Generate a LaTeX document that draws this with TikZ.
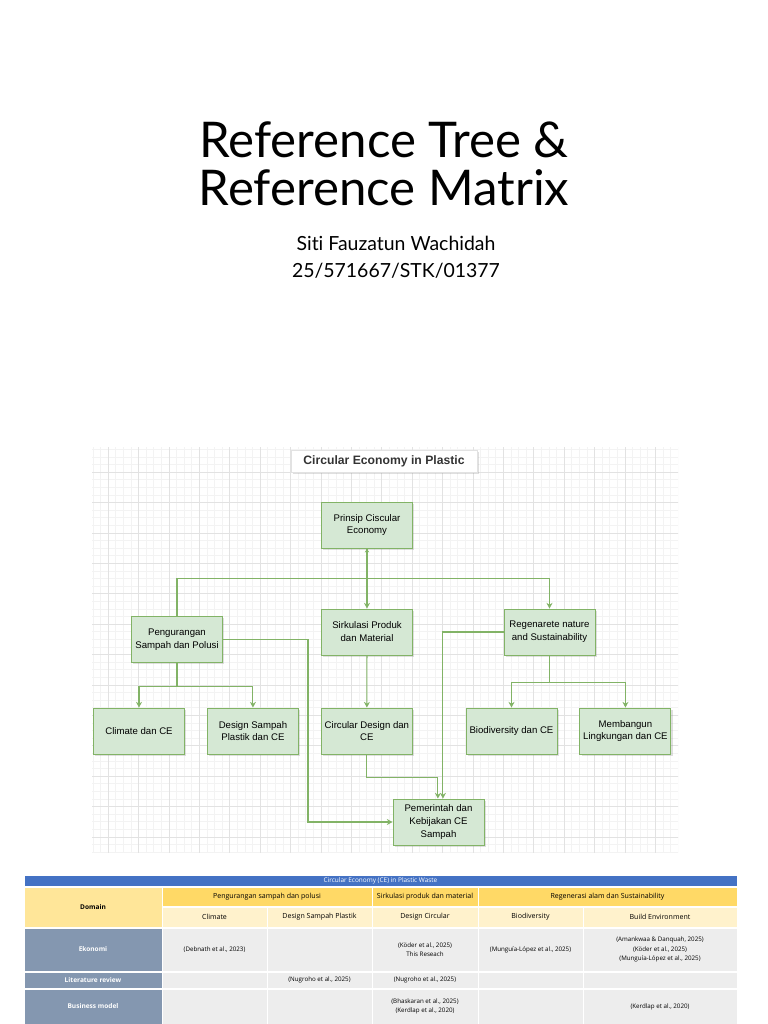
\documentclass[tikz,border=0pt]{standalone}
\usepackage{fontspec}
\setmainfont{Liberation Sans}
\newfontfamily\titlefont[Ligatures=NoCommon]{Lato}
\newfontfamily\tabfont{Open Sans}
\usepackage{tikz}
\usetikzlibrary{positioning,arrows.meta,shadows}

\definecolor{boxgreen}{HTML}{D5E8D4}
\definecolor{linegreen}{HTML}{82B366}
\definecolor{minorgray}{HTML}{F3F3F3}
\definecolor{majorgray}{HTML}{E2E2E2}
\definecolor{barblue}{HTML}{4472C4}
\definecolor{hdrone}{HTML}{FFD966}
\definecolor{hdrtwo}{HTML}{FFF2CC}
\definecolor{domyellow}{HTML}{FFE699}
\definecolor{slate}{HTML}{8497B0}
\definecolor{cellgray}{HTML}{EDEDED}

\begin{document}
\begin{tikzpicture}[
x=0.03cm, y=-0.03cm,
node distance=0.66cm,
treebox/.style={draw=linegreen, fill=boxgreen, line width=0.8pt, minimum width=2.73cm, minimum height=1.38cm, inner sep=0pt, align=center, font=\fontsize{8.2}{11}\selectfont, drop shadow={shadow xshift=1.6pt, shadow yshift=-1.6pt, opacity=0.25}},
conn/.style={draw=linegreen, line width=0.9pt, -{Stealth[length=1.7mm, width=1.8mm]}},
tcell/.style={draw=white, line width=0.8pt, inner sep=0pt, align=center, font=\tabfont\fontsize{5.3}{8}\selectfont},
thead/.style={tcell, font=\tabfont\fontsize{6}{7}\selectfont},
tdom/.style={tcell, fill=slate, text=white, minimum width=4.14cm, font=\tabfont\bfseries\fontsize{5.6}{7}\selectfont}
]
\useasboundingbox (0,0) rectangle (768,1024);
\fill[white] (0,0) rectangle (768,1024);

% title
\node[font=\titlefont\fontsize{42}{46}\selectfont, anchor=base] (titel1) at (384,157) {Reference Tree \&};
\node[font=\titlefont\fontsize{42}{46}\selectfont, anchor=base] (titel2) at (384,205) {Reference Matrix};
\node[font=\titlefont\fontsize{16.6}{20}\selectfont, anchor=base] (penulis) at (396,250) {Siti Fauzatun Wachidah};
\node[font=\titlefont\fontsize{16.6}{20}\selectfont, anchor=base] (nim) at (396,277) {25/571667/STK/01377};

% grid paper
\begin{scope}
\clip (92,447) rectangle (678,852);
\begin{scope}[shift={(77.6,441.6)}]
\draw[minorgray, line width=0.4pt, step=0.228cm] (0,0) grid (620,420);
\draw[majorgray, line width=0.5pt, step=0.912cm] (0,0) grid (620,420);
\end{scope}
\end{scope}

% tree
\node[draw=majorgray, fill=white, minimum width=5.58cm, minimum height=0.66cm, font=\bfseries\fontsize{10.4}{12}\selectfont, text=black!80, drop shadow={shadow xshift=1.6pt, shadow yshift=-1.6pt, opacity=0.25}] (judul) at (384,461) {Circular Economy in Plastic};

\node[treebox] (prinsip) at (367,525) {Prinsip Ciscular\\Economy};
\node[treebox] (kurang) at (177,639.5) {Pengurangan\\Sampah dan Polusi};
\node[treebox] (sirkulasi) at (367,632) {Sirkulasi Produk\\dan Material};
\node[treebox] (regen) at (549.5,632) {Regenarete nature\\and Sustainability};

\node[treebox] (iklim) at (139,731) {Climate dan CE};
\node[treebox, right=of iklim] (desain) {Design Sampah\\Plastik dan CE};
\node[treebox, right=of desain] (cdesain) {Circular Design dan\\CE};
\node[treebox] (biodiv) at (511.5,731) {Biodiversity dan CE};
\node[treebox, right=of biodiv] (bangun) {Membangun\\Lingkungan dan CE};

\node[treebox] (kebijakan) at (438.5,822) {Pemerintah dan\\Kebijakan CE\\Sampah};

\draw[conn, {Stealth[length=1.2mm, width=1.3mm]}-] (prinsip.south) -- ++(0,30) -| (kurang);
\draw[conn] (prinsip.south) -- (sirkulasi);
\draw[conn] (prinsip.south) -- ++(0,30) -| (regen);
\draw[conn] (kurang.south) -- ++(0,23.5) -| (iklim);
\draw[conn] (kurang.south) -- ++(0,23.5) -| (desain);
\draw[conn] (regen.south) -- ++(0,27) -| (biodiv);
\draw[conn] (regen.south) -- ++(0,27) -| (bangun);
\draw[conn] (sirkulasi) -- (cdesain);
\draw[conn] (kurang.east) -- ++(85,0) |- (kebijakan.west);
\draw[conn] (cdesain.south) -- ++(0,23) -| ([xshift=-0.5pt]kebijakan.north);
\draw[conn] (regen.west) -| ([xshift=3.8pt]kebijakan.north);

% reference matrix
\node[tcell, fill=barblue, text=white, minimum width=21.39cm, minimum height=0.33cm, font=\tabfont\fontsize{5.5}{6}\selectfont] (tbar) at (380.5,880.5) {Circular Economy (CE) in Plastic Waste};
\node[tdom, fill=domyellow, text=black, minimum height=1.2cm] (domain) at (93,907) {Domain};
\node[thead, fill=hdrone, minimum width=6.3cm, minimum height=0.57cm] (hkurang) at (267,896.5) {Pengurangan sampah dan polusi};
\node[thead, fill=hdrone, minimum width=3.18cm, minimum height=0.57cm] (hsirk) at (425,896.5) {Sirkulasi produk dan material};
\node[thead, fill=hdrone, minimum width=7.77cm, minimum height=0.57cm] (hregen) at (607.5,896.5) {Regenerasi alam dan Sustainability};
\node[thead, fill=hdrtwo, minimum width=3.15cm, minimum height=0.6cm] (hclimate) at (214.5,917) {Climate};
\node[thead, fill=hdrtwo, minimum width=3.15cm, minimum height=0.6cm] (hdesain) at (319.5,917) {Design Sampah Plastik};
\node[thead, fill=hdrtwo, minimum width=3.18cm, minimum height=0.6cm] (hcirc) at (425,917) {Design Circular};
\node[thead, fill=hdrtwo, minimum width=3.15cm, minimum height=0.6cm] (hbio) at (530.5,917) {Biodiversity};
\node[thead, fill=hdrtwo, minimum width=4.62cm, minimum height=0.6cm] (hbuild) at (660,917) {Build Environment};

\node[tdom, minimum height=1.29cm] (ekonomi) at (93,949.5) {Ekonomi};
\node[tdom, minimum height=0.48cm] (litrev) at (93,980) {Literature review};
\node[tdom, minimum height=1.05cm] (bisnis) at (93,1006.5) {Business model};

\node[tcell, fill=cellgray, minimum width=3.15cm, minimum height=1.29cm] (e1) at (214.5,949.5) {(Debnath et al., 2023)};
\node[tcell, fill=cellgray, minimum width=3.15cm, minimum height=1.29cm] (e2) at (319.5,949.5) {};
\node[tcell, fill=cellgray, minimum width=3.18cm, minimum height=1.29cm] (e3) at (425,949.5) {(Köder et al., 2025)\\This Reseach};
\node[tcell, fill=cellgray, minimum width=3.15cm, minimum height=1.29cm] (e4) at (530.5,949.5) {(Munguía-López et al., 2025)};
\node[tcell, fill=cellgray, minimum width=4.62cm, minimum height=1.29cm] (e5) at (660,949.5) {(Amankwaa \& Danquah, 2025)\\(Köder et al., 2025)\\(Munguía-López et al., 2025)};

\node[tcell, fill=cellgray, minimum width=3.15cm, minimum height=0.48cm] (l1) at (214.5,980) {};
\node[tcell, fill=cellgray, minimum width=3.15cm, minimum height=0.48cm] (l2) at (319.5,980) {(Nugroho et al., 2025)};
\node[tcell, fill=cellgray, minimum width=3.18cm, minimum height=0.48cm] (l3) at (425,980) {(Nugroho et al., 2025)};
\node[tcell, fill=cellgray, minimum width=3.15cm, minimum height=0.48cm] (l4) at (530.5,980) {};
\node[tcell, fill=cellgray, minimum width=4.62cm, minimum height=0.48cm] (l5) at (660,980) {};

\node[tcell, fill=cellgray, minimum width=3.15cm, minimum height=1.05cm] (b1) at (214.5,1006.5) {};
\node[tcell, fill=cellgray, minimum width=3.15cm, minimum height=1.05cm] (b2) at (319.5,1006.5) {};
\node[tcell, fill=cellgray, minimum width=3.18cm, minimum height=1.05cm] (b3) at (425,1006.5) {(Bhaskaran et al., 2025)\\(Kerdlap et al., 2020)};
\node[tcell, fill=cellgray, minimum width=3.15cm, minimum height=1.05cm] (b4) at (530.5,1006.5) {};
\node[tcell, fill=cellgray, minimum width=4.62cm, minimum height=1.05cm] (b5) at (660,1006.5) {(Kerdlap et al., 2020)};
\end{tikzpicture}
\end{document}
